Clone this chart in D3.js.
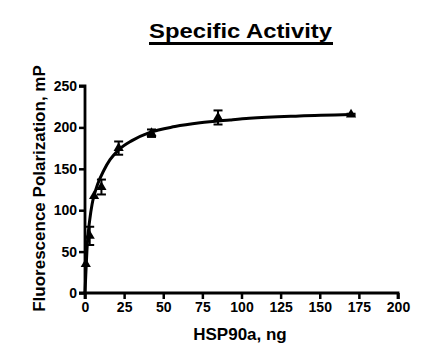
<!DOCTYPE html>
<html><head><meta charset="utf-8">
<script src="https://cdn.jsdelivr.net/npm/d3@7"></script>
<style>body{margin:0;background:#fff}svg{display:block}text{font-family:"Liberation Sans",Arial,sans-serif;font-weight:bold;fill:#000}</style>
</head><body><svg id="c" width="429" height="361"></svg>
<script>
const title = "Specific Activity";
const xLabel = "HSP90a, ng";
const yLabel = "Fluorescence Polarization, mP";
const xTicks = [0,25,50,75,100,125,150,175,200];
const yTicks = [0,50,100,150,200,250];
const pointX = [0.5, 3, 5.8, 10.5, 21.5, 42.5, 85, 170];
const pointY = [35, 69, 117, 128, 175, 193, 212, 215.5];
const pointErr = [0, 11, 0, 9, 8, 4.5, 8.5, 1];
const curveX = [0, 0.5, 1.5, 3, 4.5, 6, 8, 12, 16, 21, 30, 41.5, 57.5, 73.5, 92.7, 105, 137, 170];
const curveY = [0, 22, 60, 88, 107, 119, 131, 148, 161, 172, 184, 194, 201, 205.5, 209, 211, 213.8, 215.5];

const svg = d3.select("#c");
const x = d3.scaleLinear().domain([0,200]).range([85,398]);
const y = d3.scaleLinear().domain([0,250]).range([293,86]);

const t = svg.append("text").attr("x",240.5).attr("y",38.3).attr("text-anchor","middle")
  .style("font-size","21px").attr("textLength",183).attr("lengthAdjust","spacingAndGlyphs").text(title);
svg.append("line").attr("x1",149).attr("x2",333).attr("y1",43.5).attr("y2",43.5)
  .attr("stroke","#000").attr("stroke-width",2.8);

const xa = svg.append("g").attr("transform","translate(0,293)")
  .call(d3.axisBottom(x).tickValues(xTicks).tickSize(6).tickPadding(3).tickFormat(d3.format("d")));
const ya = svg.append("g").attr("transform","translate(85,0)")
  .call(d3.axisLeft(y).tickValues(yTicks).tickSize(6).tickPadding(2).tickFormat(d3.format("d")));
[xa,ya].forEach(a=>{
  a.select(".domain").attr("stroke","#000").attr("stroke-width",2.8);
  a.selectAll(".tick line").attr("stroke","#000").attr("stroke-width",2.5);
  a.selectAll(".tick text").style("font-size","14px").style("font-family","'Liberation Sans',Arial,sans-serif").style("font-weight","bold").attr("fill","#000");
});
xa.select(".domain").attr("d","M85,6V0H398V6");
ya.select(".domain").attr("d","M-6,86H0V293H-6");

svg.append("text").attr("x",240).attr("y",340).attr("text-anchor","middle")
  .style("font-size","17px").text(xLabel);
svg.append("text").attr("transform","translate(45,188.5) rotate(-90)").attr("text-anchor","middle")
  .style("font-size","17px").text(yLabel);

const line = d3.line().x((d,i)=>x(curveX[i])).y(d=>y(d)).curve(d3.curveMonotoneX);
svg.append("path").attr("d",line(curveY)).attr("fill","none").attr("stroke","#000").attr("stroke-width",3);

const g = svg.append("g");
pointX.forEach((px,i)=>{
  const e = pointErr[i];
  if(e>0){
    const cx = x(px), y1 = y(pointY[i]+e), y2 = y(pointY[i]-e);
    g.append("line").attr("x1",cx).attr("x2",cx).attr("y1",y1).attr("y2",y2).attr("stroke","#000").attr("stroke-width",2);
    [y1,y2].forEach(yy=>g.append("line").attr("x1",cx-4.5).attr("x2",cx+4.5).attr("y1",yy).attr("y2",yy).attr("stroke","#000").attr("stroke-width",2));
  }
});
const tri = d3.symbol().type(d3.symbolTriangle).size(45);
pointX.forEach((px,i)=>{
  g.append("path").attr("d",tri()).attr("transform",`translate(${x(px)},${y(pointY[i])})`).attr("fill","#000");
});
</script></body></html>
